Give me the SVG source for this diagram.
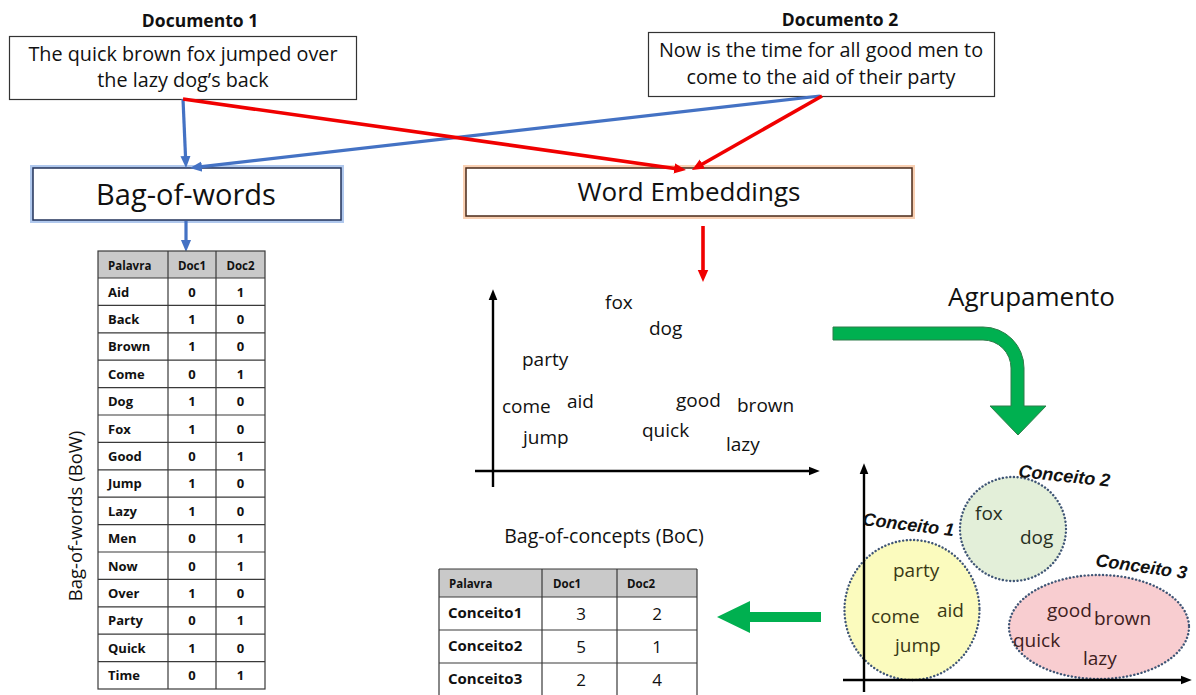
<svg xmlns="http://www.w3.org/2000/svg" width="1196" height="695" viewBox="0 0 1196 695">
<style>
text{font-family:"Open Sans","Liberation Sans",sans-serif;fill:#111}
.hd{font-weight:bold;font-size:17.5px}
.doc{font-size:19.8px}
.w{font-size:19px}
.tb{font-weight:bold;font-size:13px}
.th{font-weight:bold;font-size:11.5px}
.ct{font-family:"Liberation Sans",sans-serif;font-weight:bold;font-style:italic;font-size:18px}
.grid{stroke:#3a3a3a;stroke-width:1.2;fill:none}
.ax{stroke:#000;stroke-width:2.4;fill:none}
.blue{stroke:#4472c4;stroke-width:3.2;fill:none}
.red{stroke:#f00000;stroke-width:3.6;fill:none}
.dot{stroke:#3f5575;stroke-width:2.4;stroke-dasharray:0.1 3.6;stroke-linecap:round}
</style>
<defs>
<marker id="ab" viewBox="0 0 10 10" refX="2" refY="5" markerWidth="12" markerHeight="12" markerUnits="userSpaceOnUse" orient="auto"><path d="M0,0.8 L10,5 L0,9.2 Z" fill="#4472c4"/></marker>
<marker id="ar" viewBox="0 0 10 10" refX="2" refY="5" markerWidth="12" markerHeight="12" markerUnits="userSpaceOnUse" orient="auto"><path d="M0,0.6 L10,5 L0,9.4 Z" fill="#f00000"/></marker>
<marker id="ak" viewBox="0 0 10 10" refX="2" refY="5" markerWidth="11" markerHeight="11" markerUnits="userSpaceOnUse" orient="auto"><path d="M0,1 L10,5 L0,9 Z" fill="#000"/></marker>
</defs>
<rect width="1196" height="695" fill="#fff"/>

<g id="doc1">
<text class="hd" x="200" y="27" text-anchor="middle">Documento 1</text>
<rect x="9.5" y="36.5" width="347" height="63" fill="#fff" stroke="#333" stroke-width="1.2"/>
<text class="doc" x="183" y="61" text-anchor="middle">The quick brown fox jumped over</text>
<text class="doc" x="183" y="87" text-anchor="middle">the lazy dog’s back</text>
</g>

<g id="doc2">
<text class="hd" x="840" y="26" text-anchor="middle">Documento 2</text>
<rect x="648.5" y="32.5" width="346" height="64" fill="#fff" stroke="#333" stroke-width="1.2"/>
<text class="doc" x="821" y="57" text-anchor="middle">Now is the time for all good men to</text>
<text class="doc" x="821" y="84" text-anchor="middle">come to the aid of their party</text>
</g>

<g id="bow">
<rect x="33" y="168" width="308" height="52" fill="none" stroke="#8fb0e6" stroke-width="6" opacity="0.7"/>
<rect x="33" y="168" width="308" height="52" fill="#fff" stroke="#22325a" stroke-width="1.5"/>
<text x="186" y="205" text-anchor="middle" style="font-size:29px">Bag-of-words</text>
</g>

<g id="we">
<rect x="466" y="168" width="446" height="48" fill="none" stroke="#f8c4a0" stroke-width="6" opacity="0.8"/>
<rect x="466" y="168" width="446" height="48" fill="#fff" stroke="#4a2a1a" stroke-width="1.5"/>
<text x="689" y="201" text-anchor="middle" style="font-size:26px">Word Embeddings</text>
</g>

<g id="connectors">
<line class="blue" x1="183" y1="99" x2="185.6" y2="158.4" marker-end="url(#ab)"/>
<line class="blue" x1="820" y1="96" x2="199.5" y2="166.9" marker-end="url(#ab)"/>
<line class="red" x1="183" y1="99" x2="676.5" y2="168.7" marker-end="url(#ar)"/>
<line class="red" x1="822" y1="96" x2="700.3" y2="165.2" marker-end="url(#ar)"/>
<line class="blue" x1="186" y1="221" x2="186" y2="242.4" marker-end="url(#ab)"/>
<line class="red" x1="703" y1="226" x2="703" y2="272.4" marker-end="url(#ar)"/>
</g>

<g id="bow-table">
<rect x="98" y="251" width="167" height="27" fill="#c9c9c9"/>
<rect x="98" y="251" width="167" height="438" class="grid"/>
<path class="grid" d="M168,251V689M216,251V689M98,278H265M98,305.4H265M98,332.8H265M98,360.2H265M98,387.6H265M98,415H265M98,442.4H265M98,469.8H265M98,497.2H265M98,524.6H265M98,552H265M98,579.4H265M98,606.8H265M98,634.2H265M98,661.6H265"/>
<text class="th" x="108" y="270">Palavra</text>
<text class="th" x="192" y="270" text-anchor="middle">Doc1</text>
<text class="th" x="240.5" y="270" text-anchor="middle">Doc2</text>
<g>
<text class="tb" x="108" y="296.5">Aid</text><text class="tb" x="192" y="296.5" text-anchor="middle">0</text><text class="tb" x="240.5" y="296.5" text-anchor="middle">1</text>
<text class="tb" x="108" y="323.9">Back</text><text class="tb" x="192" y="323.9" text-anchor="middle">1</text><text class="tb" x="240.5" y="323.9" text-anchor="middle">0</text>
<text class="tb" x="108" y="351.3">Brown</text><text class="tb" x="192" y="351.3" text-anchor="middle">1</text><text class="tb" x="240.5" y="351.3" text-anchor="middle">0</text>
<text class="tb" x="108" y="378.7">Come</text><text class="tb" x="192" y="378.7" text-anchor="middle">0</text><text class="tb" x="240.5" y="378.7" text-anchor="middle">1</text>
<text class="tb" x="108" y="406.1">Dog</text><text class="tb" x="192" y="406.1" text-anchor="middle">1</text><text class="tb" x="240.5" y="406.1" text-anchor="middle">0</text>
<text class="tb" x="108" y="433.5">Fox</text><text class="tb" x="192" y="433.5" text-anchor="middle">1</text><text class="tb" x="240.5" y="433.5" text-anchor="middle">0</text>
<text class="tb" x="108" y="460.9">Good</text><text class="tb" x="192" y="460.9" text-anchor="middle">0</text><text class="tb" x="240.5" y="460.9" text-anchor="middle">1</text>
<text class="tb" x="108" y="488.3">Jump</text><text class="tb" x="192" y="488.3" text-anchor="middle">1</text><text class="tb" x="240.5" y="488.3" text-anchor="middle">0</text>
<text class="tb" x="108" y="515.7">Lazy</text><text class="tb" x="192" y="515.7" text-anchor="middle">1</text><text class="tb" x="240.5" y="515.7" text-anchor="middle">0</text>
<text class="tb" x="108" y="543.1">Men</text><text class="tb" x="192" y="543.1" text-anchor="middle">0</text><text class="tb" x="240.5" y="543.1" text-anchor="middle">1</text>
<text class="tb" x="108" y="570.5">Now</text><text class="tb" x="192" y="570.5" text-anchor="middle">0</text><text class="tb" x="240.5" y="570.5" text-anchor="middle">1</text>
<text class="tb" x="108" y="597.9">Over</text><text class="tb" x="192" y="597.9" text-anchor="middle">1</text><text class="tb" x="240.5" y="597.9" text-anchor="middle">0</text>
<text class="tb" x="108" y="625.3">Party</text><text class="tb" x="192" y="625.3" text-anchor="middle">0</text><text class="tb" x="240.5" y="625.3" text-anchor="middle">1</text>
<text class="tb" x="108" y="652.7">Quick</text><text class="tb" x="192" y="652.7" text-anchor="middle">1</text><text class="tb" x="240.5" y="652.7" text-anchor="middle">0</text>
<text class="tb" x="108" y="680.1">Time</text><text class="tb" x="192" y="680.1" text-anchor="middle">0</text><text class="tb" x="240.5" y="680.1" text-anchor="middle">1</text>
</g>
<text x="82" y="516" text-anchor="middle" transform="rotate(-90 82 516)" style="font-size:18.5px">Bag-of-words (BoW)</text>
</g>

<g id="scatter">
<line class="ax" x1="493" y1="487" x2="493" y2="298" marker-end="url(#ak)"/>
<line class="ax" x1="475" y1="471" x2="811" y2="471" marker-end="url(#ak)"/>
<text class="w" x="605" y="309">fox</text>
<text class="w" x="649" y="335">dog</text>
<text class="w" x="522" y="366">party</text>
<text class="w" x="502" y="413">come</text>
<text class="w" x="567" y="408">aid</text>
<text class="w" x="676" y="407">good</text>
<text class="w" x="737" y="412">brown</text>
<text class="w" x="523" y="444">jump</text>
<text class="w" x="642" y="437">quick</text>
<text class="w" x="726" y="451">lazy</text>
</g>

<g id="agrupamento">
<text x="948" y="306" style="font-size:26px">Agrupamento</text>
<path d="M833,327 L983,327 A41,41 0 0 1 1024,368 L1024,406 L1046,406 L1018,435 L990,406 L1011,406 L1011,368 A28,28 0 0 0 983,340 L833,340 Z" fill="#00b050" stroke="#2f7d4a" stroke-width="1"/>
</g>

<g id="clusters">
<ellipse cx="912" cy="610" rx="67.5" ry="70" fill="#fbfbbe" class="dot"/>
<ellipse cx="1013" cy="529" rx="53" ry="52" fill="#e3efd9" class="dot"/>
<ellipse cx="1099" cy="627" rx="90" ry="52" fill="#f8cdd0" class="dot"/>
<line class="ax" x1="864" y1="692" x2="864" y2="472" marker-end="url(#ak)"/>
<line class="ax" x1="843" y1="680" x2="1183" y2="680" marker-end="url(#ak)"/>
<text class="ct" x="862" y="525" transform="rotate(7 862 525)">Conceito 1</text>
<text class="ct" x="1018" y="477" transform="rotate(6 1018 477)">Conceito 2</text>
<text class="ct" x="1095" y="566" transform="rotate(8 1095 566)">Conceito 3</text>
<text class="w" x="975" y="520" style="fill:#28301f">fox</text>
<text class="w" x="1020" y="544" style="fill:#28301f">dog</text>
<text class="w" x="893" y="577" style="fill:#3a3915">party</text>
<text class="w" x="871" y="623" style="fill:#3a3915">come</text>
<text class="w" x="937" y="617" style="fill:#3a3915">aid</text>
<text class="w" x="895" y="652" style="fill:#3a3915">jump</text>
<text class="w" x="1047" y="617" style="fill:#3e2020">good</text>
<text class="w" x="1094" y="625" style="fill:#3e2020">brown</text>
<text class="w" x="1013" y="647" style="fill:#3e2020">quick</text>
<text class="w" x="1083" y="665" style="fill:#3e2020">lazy</text>
</g>

<g id="boc-arrow">
<path d="M821,612 L750,612 L750,601 L717,617 L750,633 L750,622 L821,622 Z" fill="#00b050"/>
</g>

<g id="boc-table">
<text x="604" y="543" text-anchor="middle" style="font-size:19.5px">Bag-of-concepts (BoC)</text>
<rect x="439" y="569" width="258" height="28" fill="#c9c9c9"/>
<path class="grid" d="M439,569H697M439,597H697M439,630H697M439,663H697M439,569V695M542,569V695M617,569V695M697,569V695"/>
<text class="th" x="449" y="588">Palavra</text>
<text class="th" x="553" y="588">Doc1</text>
<text class="th" x="627" y="588">Doc2</text>
<text x="448" y="618" style="font-weight:bold;font-size:15px">Conceito1</text>
<text x="448" y="651" style="font-weight:bold;font-size:15px">Conceito2</text>
<text x="448" y="684" style="font-weight:bold;font-size:15px">Conceito3</text>
<text x="581" y="620" text-anchor="middle" style="font-size:17px">3</text>
<text x="657" y="620" text-anchor="middle" style="font-size:17px">2</text>
<text x="581" y="653" text-anchor="middle" style="font-size:17px">5</text>
<text x="657" y="653" text-anchor="middle" style="font-size:17px">1</text>
<text x="581" y="686" text-anchor="middle" style="font-size:17px">2</text>
<text x="657" y="686" text-anchor="middle" style="font-size:17px">4</text>
</g>
</svg>
